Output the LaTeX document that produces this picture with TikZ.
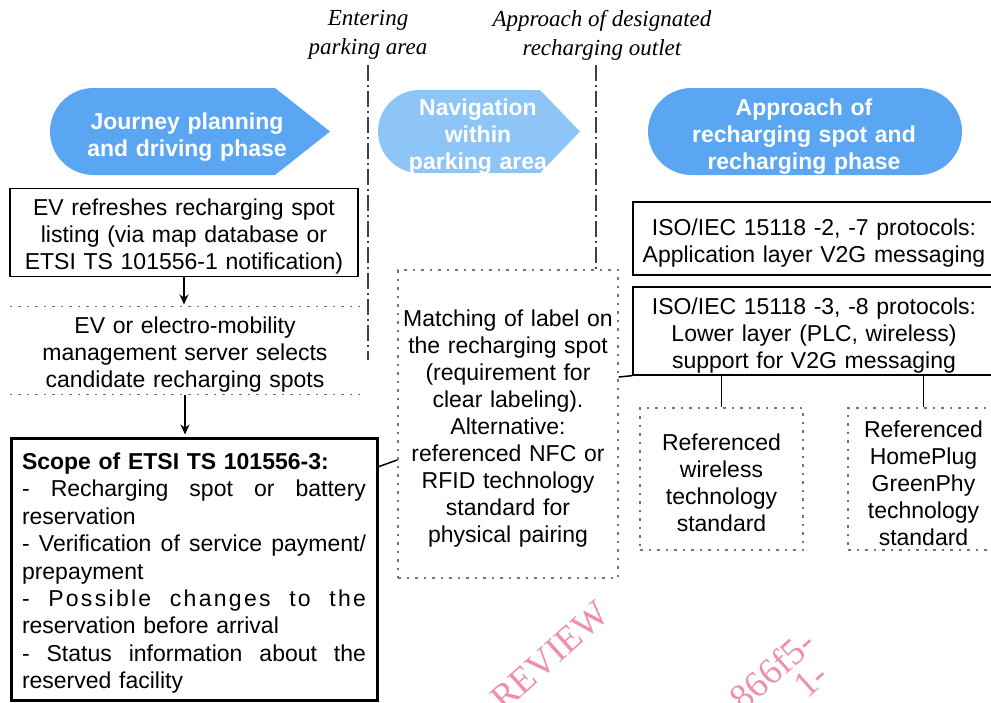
\documentclass[tikz,border=0pt]{standalone}
\usepackage{fontspec}
\setmainfont{Liberation Sans}
\newfontfamily\labelserif{Liberation Serif}
\usetikzlibrary{arrows.meta,calc}
\definecolor{phaseblue}{RGB}{90,166,242}
\definecolor{phaselight}{RGB}{141,197,246}
\definecolor{markpink}{RGB}{240,143,172}
\newcommand\boxfont{\fontsize{23}{27}\selectfont}
\newcommand\jline[1]{\makebox[344pt][s]{\spaceskip=.278em plus 1fil\relax #1}}
\tikzset{
  lowered/.style={execute at begin node={\rule{0pt}{25pt}}},
  solidbox/.style={draw=black,line width=1.5pt,align=center,font=\boxfont,inner sep=2pt,lowered},
  scopebox/.style={solidbox,line width=3pt,align=left,font=\fontsize{23}{27.4}\selectfont},
  dotbox/.style={draw=black!55,line width=1.3pt,dash pattern=on 2.5pt off 6pt,
                 align=center,font=\boxfont,inner sep=2pt,lowered},
  plain/.style={align=center,font=\boxfont,inner sep=2pt,lowered},
  phase/.style={align=center,text=white,font=\boxfont\bfseries,lowered},
  milestone/.style={align=center,font=\fontsize{23}{29}\selectfont\labelserif\itshape},
  boundary/.style={black!75,line width=2pt,dash pattern=on 16pt off 4pt on 2pt off 4pt},
  sep/.style={black!55,line width=1.3pt,dash pattern=on 2.5pt off 6pt},
  flow/.style={-{Stealth[length=10pt,width=9pt]},line width=1.5pt,shorten >=2pt},
  link/.style={black,line width=1.5pt},
  watermark/.style={text=markpink,font=\fontsize{37}{42}\selectfont\labelserif,rotate=42},
}

\begin{document}
\begin{tikzpicture}[x=1pt,y=-1pt]
  \path[use as bounding box] (0,0) rectangle (991,702);
  \clip (0,0) rectangle (991,702);

  \node[milestone] (entering) at (368,35) {Entering\\parking area};
  \node[milestone] (outlet) at (602,35) {Approach of designated\\recharging outlet};

  % phase banners
  \fill[phaseblue] (275,88) -- (330,131.5) -- (275,175) -- (93.5,175)
    arc[start angle=90,end angle=270,radius=43.5] -- cycle;
  \fill[phaselight] (540,90) -- (580,131.5) -- (540,173) -- (419.5,173)
    arc[start angle=90,end angle=270,radius=41.5] -- cycle;
  \fill[phaseblue] (691.5,88) -- (918.5,88) arc[start angle=270,end angle=450,radius=43.5]
    -- (691.5,175) arc[start angle=90,end angle=270,radius=43.5] -- cycle;
  \node[phase,text width=220pt] (journey) at (187,133) {Journey planning\\and driving phase};
  \node[phase,text width=150pt] (navigation) at (478,132) {Navigation\\within\\parking area};
  \node[phase,text width=260pt] (approach) at (804,132) {Approach of\\recharging spot and\\recharging phase};

  \node[solidbox,text width=340pt,minimum width=348pt,minimum height=85pt] (refresh) at (184,232.5)
    {EV refreshes recharging spot\\listing (via map database or\\ETSI TS 101556-1 notification)};
  \node[plain,text width=340pt,minimum width=350pt,minimum height=85pt] (select) at (185,350.5)
    {EV or electro-mobility\\management server selects\\candidate recharging spots};
  \draw[sep] (select.north west) -- (select.north east);
  \draw[sep] (select.south west) -- (select.south east);

  \node[scopebox,text width=344pt,inner xsep=11pt,minimum height=262pt] (scope) at (194,569)
    {\textbf{Scope of ETSI TS 101556-3:}\\
     \jline{- Recharging spot or battery}\\
     reservation\\
     \jline{- Verification of service payment/}\\
     prepayment\\
     \jline{\addfontfeature{LetterSpace=10}- Possible changes to the}\\
     reservation before arrival\\
     \jline{- Status information about the}\\
     reserved facility};

  \node[dotbox,text width=214pt,minimum width=220pt,minimum height=308pt] (matching) at (508,424)
    {Matching of label on\\the recharging spot\\(requirement for\\clear labeling).\\Alternative:\\
     referenced NFC or\\RFID technology\\standard for\\physical pairing};

  \node[solidbox,text width=354pt,minimum width=362pt,minimum height=73pt] (isoupper) at (814,238.5)
    {ISO/IEC 15118 -2, -7 protocols:\\Application layer V2G messaging};
  \node[solidbox,text width=354pt,minimum width=362pt,minimum height=82pt] (isolower) at (814,331)
    {ISO/IEC 15118 -3, -8 protocols:\\Lower layer (PLC, wireless)\\support for V2G messaging};
  \node[dotbox,text width=155pt,minimum width=163pt,minimum height=142pt] (wireless) at (721.5,479)
    {Referenced\\wireless\\technology\\standard};
  \node[dotbox,text width=145pt,minimum width=151pt,minimum height=142pt] (homeplug) at (923.5,479)
    {Referenced\\HomePlug\\GreenPhy\\technology\\standard};

  \draw[flow] (refresh.south) -- (refresh.south |- select.north);
  \draw[flow] (select.south) -- (select.south |- scope.north);
  \draw[link] (scope.29) -- (matching.198);
  \draw[link] (matching.23.6) -- (isolower.south west);
  \draw[link] (isolower.south -| wireless.north) -- (wireless.north);
  \draw[link] (isolower.south -| homeplug.north) -- (homeplug.north);

  \coordinate (enterline) at (368,65);
  \coordinate (enterend) at (368,360);
  \draw[boundary] (enterline) -- (enterend);
  \coordinate (outletline) at (596,65);
  \draw[boundary] (outletline) -- (outletline |- matching.north);

  \node[watermark] (wmreview) at (550,656) {REVIEW};
  \node[watermark] (wmhash) at (772,670) {866f5-};
  \node[watermark] (wmtail) at (811,680) {1-};
\end{tikzpicture}
\end{document}
